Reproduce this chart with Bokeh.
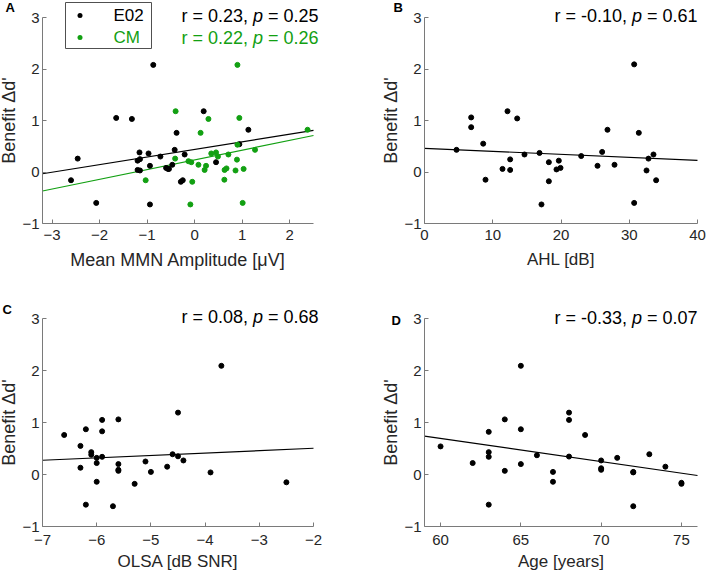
from bokeh.plotting import figure
from bokeh.layouts import column, row
from bokeh.models import Label, BoxAnnotation, FixedTicker, Range1d
from bokeh.embed import file_html
from bokeh.resources import INLINE

# ---------------- data ----------------
a_e02_x = [-0.87, -1.65, -1.32, -0.38, -2.46, -1.16, -0.97, -0.72, -0.42, -1.20, -1.15, -1.20, -1.15, -0.94,
           -0.60, -0.56, -0.54, -0.47, -2.60, -2.07, -0.94, 0.19, 1.13, 0.94, -0.21, 0.45, -0.29, -0.25]
a_e02_y = [2.08, 1.05, 1.03, 0.76, 0.26, 0.38, 0.36, 0.30, 0.43, 0.22, 0.25, 0.04, 0.03, 0.12,
           0.08, 0.06, 0.06, 0.14, -0.16, -0.60, -0.63, 1.18, 0.82, 0.54, 0.34, 0.19, -0.19, -0.16]
a_cm_x = [0.90, -0.40, 0.29, 0.94, 0.125, 2.375, 0.90, 1.27, -0.41, 0.35, 0.45, 0.49, 0.71, -0.13,
          -0.07, 0.08, 0.24, 0.21, 0.89, 0.63, 0.67, 0.86, 1.03, 0.625, -0.05, -0.09, 1.01, -1.03]
a_cm_y = [2.08, 1.18, 1.03, 1.05, 0.76, 0.82, 0.53, 0.43, 0.26, 0.36, 0.38, 0.30, 0.34, 0.21,
          0.19, 0.14, 0.12, 0.04, 0.24, 0.04, 0.07, 0.03, 0.06, -0.15, -0.19, -0.63, -0.60, -0.16]

ahl_x = [6.84, 6.84, 4.69, 8.6, 8.94, 12.16, 13.58, 11.43, 12.55, 12.55, 14.65, 16.85, 17.14, 18.22, 18.22,
         19.34, 19.68, 19.93, 22.96, 25.35, 26.03, 26.81, 27.84, 30.72, 30.72, 31.4, 32.53, 32.82, 33.55, 33.94]
ahl_y = [1.06, 0.87, 0.43, 0.55, -0.15, 1.18, 1.04, 0.06, 0.245, 0.04, 0.34, 0.37, -0.63, 0.19, -0.18,
         0.05, 0.22, 0.08, 0.31, 0.12, 0.39, 0.82, 0.14, 2.09, -0.60, 0.76, 0.03, 0.26, 0.34, -0.16]

olsa_x = [-6.6, -6.2, -5.9, -5.6, -5.9, -6.3, -6.1, -6.1, -6.0, -5.9, -6.0, -6.3, -5.6, -5.6, -5.6,
          -5.1, -5.0, -4.7, -6.0, -5.3, -6.2, -5.7, -4.6, -4.5, -4.5, -3.7, -4.4, -3.9, -2.5]
olsa_y = [0.76, 0.87, 1.05, 1.06, 0.83, 0.55, 0.43, 0.38, 0.32, 0.34, 0.22, 0.13, 0.20, 0.09, 0.07,
          0.25, 0.05, 0.15, -0.14, -0.18, -0.58, -0.61, 0.39, 1.19, 0.35, 2.09, 0.27, 0.04, -0.15]

age_x = [60, 62, 63, 63, 63, 63, 64, 64, 65, 65, 65, 66, 67, 67, 68, 68, 68, 69, 70, 70, 70, 71, 72, 72, 72,
         73, 74, 75, 75]
age_y = [0.54, 0.22, 0.82, 0.43, 0.34, -0.58, 1.06, 0.07, 2.09, 0.87, 0.20, 0.37, 0.05, -0.14, 1.19, 1.05,
         0.345, 0.76, 0.27, 0.12, 0.09, 0.32, 0.05, 0.04, -0.61, 0.39, 0.15, -0.16, -0.18]

# least-squares lines (intercept, slope) as drawn in the reference
fit_a_e02 = (0.439, 0.148)
fit_a_cm = (0.236, 0.189)
fit_b = (0.46, -0.00588)
fit_c = (0.597, 0.0462)
fit_d = (3.363, -0.0445)

stats_a_e02 = ("0.23", "0.25")
stats_a_cm = ("0.22", "0.26")
stats_b = ("-0.10", "0.61")
stats_c = ("0.08", "0.68")
stats_d = ("-0.33", "0.07")

y_lim = (-1, 3)
y_ticks = [-1, 0, 1, 2, 3]
a_lim, a_ticks = (-3.2, 2.5), [-3, -2, -1, 0, 1, 2]
b_lim, b_ticks = (0, 40), [0, 10, 20, 30, 40]
c_lim, c_ticks = (-7, -2), [-7, -6, -5, -4, -3, -2]
d_lim, d_ticks = (59, 76), [60, 65, 70, 75]

legend_labels = ["E02", "CM"]

# ---------------- styling / layout (pixels) ----------------
FONT = "Liberation Sans"
BLACK = "#000000"
GREEN = "#12a012"
TXT = "#262626"
AXC = "#7a7a7a"

L_W, R_W = 382, 326          # figure widths
TOP_H, BOT_H = 301, 275      # figure heights
GAP_L = 42                   # canvas left edge -> axes box left
GAP_R_L, GAP_R_R = 69, 11    # axes box right -> canvas right (left / right column)
GAP_T = 17                   # canvas top -> axes box top
BB_TOP, BB_BOT = 78, 50      # axes box bottom -> canvas bottom

CW = {" ": 0.278, "=": 0.584, ".": 0.278, ",": 0.278, "r": 0.333, "-": 0.333, "p": 0.556}


def tw(s, size):
    return sum(CW.get(ch, 0.556) for ch in s) * size


def make_fig(w, h, bb, xlim, xticks, xlabel, gap_r, top_row, xlabel_size):
    box_w = w - GAP_L - gap_r
    box_h = h - bb - GAP_T
    ux = box_w / (xlim[1] - xlim[0])
    uy = box_h / (y_lim[1] - y_lim[0])
    xr = Range1d(xlim[0] - GAP_L / ux, xlim[1] + gap_r / ux)
    yr = Range1d(y_lim[0] - bb / uy, y_lim[1] + GAP_T / uy)
    p = figure(width=w, height=h, x_range=xr, y_range=yr,
               output_backend="svg", toolbar_location=None,
               min_border_left=0, min_border_right=0,
               min_border_top=0, min_border_bottom=0)
    p.outline_line_color = None
    p.grid.visible = False
    p.background_fill_color = "white"
    p.border_fill_color = "white"
    for ax, ticks in ((p.xaxis[0], xticks), (p.yaxis[0], y_ticks)):
        ax.ticker = FixedTicker(ticks=ticks)
        ax.axis_line_color = AXC
        ax.major_tick_line_color = AXC
        ax.major_tick_in = 4
        ax.major_tick_out = 0
        ax.minor_tick_line_color = None
        ax.major_label_text_font = FONT
        ax.major_label_text_font_size = "15px"
        ax.major_label_text_color = TXT
        ax.axis_label_text_font = FONT
        ax.axis_label_text_font_style = "normal"
        ax.axis_label_text_color = TXT
    p.xaxis[0].bounds = xlim
    p.yaxis[0].bounds = y_lim
    p.yaxis[0].fixed_location = xlim[0]
    p.xaxis[0].fixed_location = y_lim[0]
    p.xaxis[0].axis_label = xlabel
    p.xaxis[0].axis_label_text_font_size = xlabel_size
    p.yaxis[0].axis_label = "Benefit \u0394d'"
    p.yaxis[0].axis_label_text_font_size = "18px"
    p.yaxis[0].axis_label_standoff = 0
    p.yaxis[0].major_label_standoff = 3
    if top_row:
        p.xaxis[0].major_label_standoff = 6
        p.xaxis[0].axis_label_standoff = 7
    else:
        p.xaxis[0].major_label_standoff = 8
        p.xaxis[0].axis_label_standoff = 4
    p._ux, p._uy = ux, uy
    return p


def add_fit(p, xlim, fit, color):
    b, m = fit
    xs = [xlim[0], xlim[1]]
    p.line(xs, [b + m * x for x in xs], line_color=color, line_width=1.2)


def add_stats(p, xlim, y, stats, color, dx):
    size = 18
    s1 = f"r = {stats[0]},"
    s3 = f"= {stats[1]}"
    w1 = tw(s1 + " ", size)
    w2 = tw("p ", size)
    w3 = tw(s3, size)
    x0 = dx - (w1 + w2 + w3)
    for txt, off, style in ((s1, x0, "normal"), ("p", x0 + w1, "italic"), (s3, x0 + w1 + w2, "normal")):
        p.add_layout(Label(x=xlim[1], y=y, x_offset=off, text=txt, text_align="left",
                           text_baseline="middle", text_font=FONT, text_font_size=f"{size}px",
                           text_font_style=style, text_color=color))


def add_letter(p, xlim, letter, dx, dy):
    p.add_layout(Label(x=xlim[0], y=y_lim[1], x_offset=dx, y_offset=dy, text=letter, text_align="left",
                       text_baseline="middle", text_font=FONT, text_font_size="13px",
                       text_font_style="bold", text_color=BLACK))


# ---------------- panel A ----------------
pa = make_fig(L_W, TOP_H, BB_TOP, a_lim, a_ticks, "Mean MMN Amplitude [\u03bcV]", GAP_R_L, True, "18px")
add_fit(pa, a_lim, fit_a_e02, BLACK)
add_fit(pa, a_lim, fit_a_cm, GREEN)
pa.scatter(a_e02_x, a_e02_y, size=5, color=BLACK)
pa.scatter(a_cm_x, a_cm_y, size=5, color=GREEN)
add_stats(pa, a_lim, 3.02, stats_a_e02, BLACK, 5)
add_stats(pa, a_lim, 2.61, stats_a_cm, GREEN, 5)
add_letter(pa, a_lim, "A", -37, 10)


def lx(off):
    return a_lim[0] + off / pa._ux


def ly(off):
    return y_lim[1] + off / pa._uy


pa.add_layout(BoxAnnotation(left=lx(23), right=lx(109), top=ly(15), bottom=ly(-31),
                            fill_color="white", fill_alpha=1.0, line_color="#505050",
                            line_width=1, line_alpha=1.0))
for lab, col, yo in zip(legend_labels, [BLACK, GREEN], [2, -20]):
    pa.add_layout(BoxAnnotation(left=lx(35), right=lx(40), top=ly(yo + 2.5), bottom=ly(yo - 2.5),
                                fill_color=col, fill_alpha=1.0, line_color=None, border_radius=3))
    pa.add_layout(Label(x=a_lim[0], y=y_lim[1], x_offset=71, y_offset=yo, text=lab, text_align="left",
                        text_baseline="middle", text_font=FONT, text_font_size="17px", text_color=col))

# ---------------- panel B ----------------
pb = make_fig(R_W, TOP_H, BB_TOP, b_lim, b_ticks, "AHL [dB]", GAP_R_R, True, "17px")
add_fit(pb, b_lim, fit_b, BLACK)
pb.scatter(ahl_x, ahl_y, size=5, color=BLACK)
add_stats(pb, b_lim, 3.02, stats_b, BLACK, 0)
add_letter(pb, b_lim, "B", -31, 10)

# ---------------- panel C ----------------
pc = make_fig(L_W, BOT_H, BB_BOT, c_lim, c_ticks, "OLSA [dB SNR]", GAP_R_L, False, "17px")
add_fit(pc, c_lim, fit_c, BLACK)
pc.scatter(olsa_x, olsa_y, size=5, color=BLACK)
add_stats(pc, c_lim, 3.02, stats_c, BLACK, 5)
add_letter(pc, c_lim, "C", -40, 9)

# ---------------- panel D ----------------
pd_ = make_fig(R_W, BOT_H, BB_BOT, d_lim, d_ticks, "Age [years]", GAP_R_R, False, "17px")
add_fit(pd_, d_lim, fit_d, BLACK)
pd_.scatter(age_x, age_y, size=5, color=BLACK)
add_stats(pd_, d_lim, 3.01, stats_d, BLACK, 0)
add_letter(pd_, d_lim, "D", -33, -2)

layout = column(row(pa, pb), row(pc, pd_))
open("out.html", "w").write(file_html(layout, INLINE))
